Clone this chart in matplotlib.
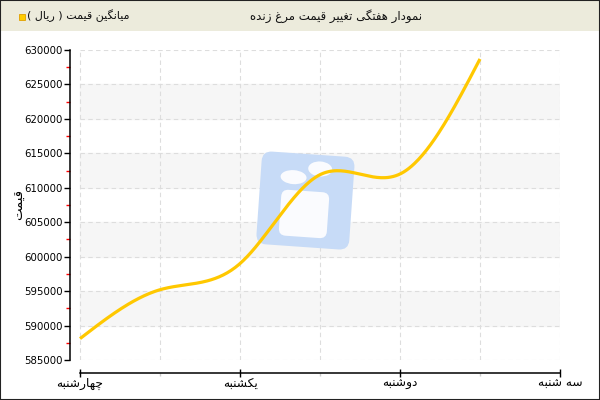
import numpy as np
import matplotlib
matplotlib.use('Agg')
import matplotlib.pyplot as plt
from matplotlib.patches import Rectangle, FancyBboxPatch, Ellipse
import matplotlib.transforms as mtransforms

# Data
day_labels = ['چهارشنبه', 'یکشنبه', 'دوشنبه', 'سه شنبه']
day_pos = [0, 1, 2, 3]
point_x = [0, 0.5, 1, 1.5, 2, 2.5]
point_price = [588100, 595200, 599000, 611900, 612000, 628700]

title_text = 'نمودار هفتگی تغییر قیمت مرغ زنده'
legend_text = 'میانگین قیمت ( ریال )'
ylabel_text = 'قیمت'

# --- simple Persian shaping (matplotlib has no RTL support)
FORMS = {
    'ا': ('\uFE8D', '\uFE8E', None, None),
    'ب': ('\uFE8F', '\uFE90', '\uFE91', '\uFE92'),
    'ت': ('\uFE95', '\uFE96', '\uFE97', '\uFE98'),
    'د': ('\uFEA9', '\uFEAA', None, None),
    'ر': ('\uFEAD', '\uFEAE', None, None),
    'ز': ('\uFEAF', '\uFEB0', None, None),
    'س': ('\uFEB1', '\uFEB2', '\uFEB3', '\uFEB4'),
    'ش': ('\uFEB5', '\uFEB6', '\uFEB7', '\uFEB8'),
    'غ': ('\uFECD', '\uFECE', '\uFECF', '\uFED0'),
    'ف': ('\uFED1', '\uFED2', '\uFED3', '\uFED4'),
    'ق': ('\uFED5', '\uFED6', '\uFED7', '\uFED8'),
    'ل': ('\uFEDD', '\uFEDE', '\uFEDF', '\uFEE0'),
    'م': ('\uFEE1', '\uFEE2', '\uFEE3', '\uFEE4'),
    'ن': ('\uFEE5', '\uFEE6', '\uFEE7', '\uFEE8'),
    'ه': ('\uFEE9', '\uFEEA', '\uFEEB', '\uFEEC'),
    'و': ('\uFEED', '\uFEEE', None, None),
    'چ': ('\uFB7A', '\uFB7B', '\uFB7C', '\uFB7D'),
    'ک': ('\uFB8E', '\uFB8F', '\uFB90', '\uFB91'),
    'گ': ('\uFB92', '\uFB93', '\uFB94', '\uFB95'),
    'ی': ('\uFBFC', '\uFBFD', '\uFBFE', '\uFBFF'),
}


def fa(text):
    out = []
    for i, ch in enumerate(text):
        if ch not in FORMS:
            out.append(ch)
            continue
        prev = text[i - 1] if i > 0 else ''
        nxt = text[i + 1] if i + 1 < len(text) else ''
        join_prev = prev in FORMS and FORMS[prev][2] is not None
        join_next = FORMS[ch][2] is not None and nxt in FORMS
        iso, fin, ini, med = FORMS[ch]
        if join_prev and join_next:
            out.append(med)
        elif join_prev:
            out.append(fin)
        elif join_next:
            out.append(ini)
        else:
            out.append(iso)
    s = ''.join(reversed(out))
    return s.translate(str.maketrans('()', ')('))


def smooth(xs, ys, n=300):
    # natural cubic spline through the points, for drawing only
    xs = np.asarray(xs, float)
    ys = np.asarray(ys, float)
    k = len(xs)
    h = np.diff(xs)
    A = np.zeros((k, k))
    b = np.zeros(k)
    A[0, 0] = A[-1, -1] = 1
    for i in range(1, k - 1):
        A[i, i - 1] = h[i - 1]
        A[i, i] = 2 * (h[i - 1] + h[i])
        A[i, i + 1] = h[i]
        b[i] = 6 * ((ys[i + 1] - ys[i]) / h[i] - (ys[i] - ys[i - 1]) / h[i - 1])
    M = np.linalg.solve(A, b)
    xx = np.linspace(xs[0], xs[-1], n)
    idx = np.clip(np.searchsorted(xs, xx) - 1, 0, k - 2)
    x0, x1 = xs[idx], xs[idx + 1]
    hh = x1 - x0
    t0, t1 = x1 - xx, xx - x0
    yy = (M[idx] * t0 ** 3 + M[idx + 1] * t1 ** 3) / (6 * hh) \
        + (ys[idx] / hh - M[idx] * hh / 6) * t0 \
        + (ys[idx + 1] / hh - M[idx + 1] * hh / 6) * t1
    return xx, yy


plt.rcParams['font.family'] = ['DejaVu Sans', 'Noto Sans']

fig = plt.figure(figsize=(6, 4), dpi=100)
W, H = 600, 400

# header bar
fig.patches.append(Rectangle((0, 1 - 31 / H), 1, 31 / H, transform=fig.transFigure,
                             facecolor='#ecebdc', edgecolor='none', zorder=0))
fig.patches.append(Rectangle((0, 0), 1, 1, transform=fig.transFigure, fill=False,
                             edgecolor='#222222', linewidth=1.5, zorder=5))
fig.text(336 / W, 1 - 16 / H, fa(title_text), ha='center', va='center', fontsize=8.5, color='#111111')
fig.patches.append(Rectangle((19 / W, 1 - 20 / H), 6 / W, 6 / H, transform=fig.transFigure,
                             facecolor='#ffcc00', edgecolor='#e0a000', linewidth=0.6))
fig.text(27 / W, 1 - 16 / H, fa(legend_text), ha='left', va='center', fontsize=8, color='#111111')

ax = fig.add_axes([70 / W, 40 / H, 490 / W, 310 / H])
ax.set_xlim(-0.0625, 3.0)
ax.set_ylim(585000, 630000)
x_start = 0.0625 / 3.0625

# alternate bands
for lo in [590000, 600000, 610000, 620000]:
    ax.axhspan(lo, lo + 5000, xmin=x_start, color='#f6f6f6', zorder=0)

for yv in np.arange(585000, 630001, 5000):
    ax.axhline(yv, xmin=x_start, color='#dddddd', linestyle=(0, (4, 3)), linewidth=0.8, zorder=1)
for xv in np.arange(0, 3.01, 0.5):
    ax.axvline(xv, color='#dddddd', linestyle=(0, (4, 3)), linewidth=0.8, zorder=1)

# watermark logo (pixel coordinates, slightly tilted)
rt = mtransforms.Affine2D().rotate_deg_around(305, H - 200, -4)
ax.add_patch(FancyBboxPatch((259, H - 247), 93, 93, boxstyle='round,pad=0,rounding_size=10',
                            facecolor='#c7dbf7', edgecolor='none', transform=rt, zorder=2))
ax.add_patch(Ellipse((292, H - 178), 26, 14, facecolor='#fafbfe', edgecolor='none', transform=rt, zorder=3))
ax.add_patch(Ellipse((318, H - 168), 24, 15, facecolor='#fafbfe', edgecolor='none', transform=rt, zorder=3))
ax.add_patch(FancyBboxPatch((281, H - 237), 48, 46, boxstyle='round,pad=0,rounding_size=7',
                            facecolor='#fafbfe', edgecolor='none', transform=rt, zorder=3))

# line
sx, sy = smooth(point_x, point_price)
ax.plot(sx, sy, color='#ffc800', linewidth=2.3, solid_capstyle='butt', zorder=10)

# axes styling
ax.spines['top'].set_visible(False)
ax.spines['right'].set_visible(False)
ax.spines['bottom'].set_position(('outward', 9))
ax.spines['bottom'].set_bounds(0, 3)
ax.spines['left'].set_linewidth(1.1)
ax.spines['bottom'].set_linewidth(1.1)

ax.set_yticks(np.arange(585000, 630001, 5000))
ax.set_yticks(np.arange(587500, 630000, 5000), minor=True)
ax.tick_params(axis='y', which='major', direction='out', length=4, width=1, pad=1, labelsize=7.3, colors='black')
ax.tick_params(axis='y', which='minor', direction='out', length=3, width=1, color='red')

ax.set_xticks(day_pos)
ax.set_xticklabels([fa(d) for d in day_labels])
ax.set_xticks([0.5, 1.5, 2.5], minor=True)
ax.tick_params(axis='x', which='major', direction='inout', length=6, width=1, pad=0, labelsize=8.8)
ax.tick_params(axis='x', which='minor', direction='out', length=2, width=1, color='#cccccc')

fig.text(19 / W, 1 - 204 / H, fa(ylabel_text), rotation=90, ha='center', va='center', fontsize=9.5)

fig.savefig('out.png', dpi=100)
